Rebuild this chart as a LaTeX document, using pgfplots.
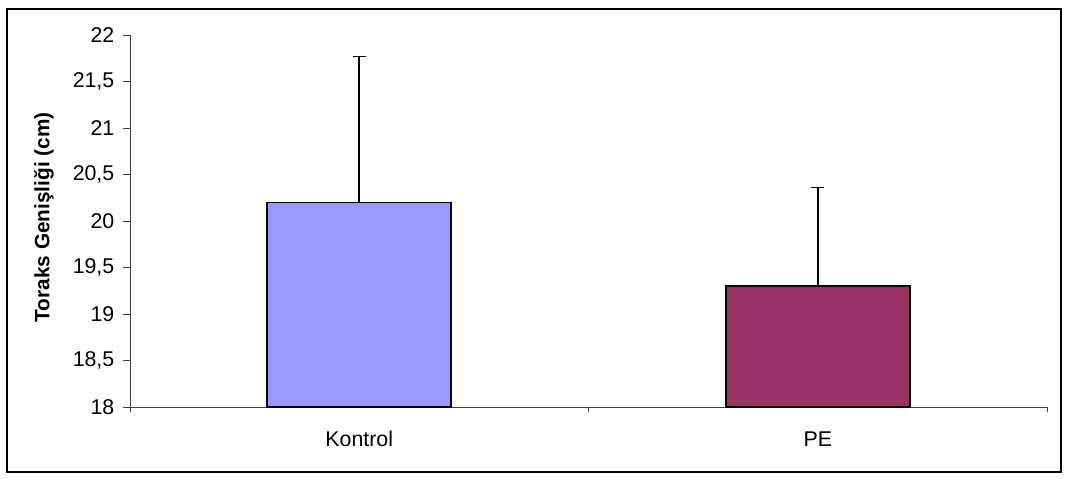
\documentclass[border=0pt]{standalone}
\usepackage{fontspec}
\setmainfont{Liberation Sans}
\usepackage{pgfplots}
\pgfplotsset{compat=1.18}

\definecolor{kontrol}{HTML}{9999FF}
\definecolor{pe}{HTML}{993366}

\begin{document}
\begin{tikzpicture}[font=\fontsize{16}{19}\selectfont]
\useasboundingbox (0,0) rectangle (799.5pt,358.5pt);
\draw[line width=0.8pt] (5.25pt,4.5pt) rectangle (795.75pt,351.75pt);
\begin{axis}[
    at={(97.5pt,53.25pt)}, anchor=south west,
    scale only axis,
    width=687.75pt, height=279pt,
    axis x line*=bottom,
    axis y line*=left,
    axis line style={black!75, line width=0.7pt},
    xmin=0, xmax=2,
    ymin=18, ymax=22,
    ytick={18,18.5,...,22},
    /pgf/number format/.cd, fixed, use comma, precision=1, assume math mode=true,
    /pgfplots/.cd,
    xtick={0.5,1.5},
    xticklabels={Kontrol, PE},
    x tick style={draw=none},
    extra x ticks={0,1,2},
    extra x tick labels={},
    extra x tick style={x tick style={draw=black!75, line width=0.7pt}, major tick length=3.75pt},
    y tick style={black!75, line width=0.7pt},
    tick align=outside,
    major tick length=5.25pt,
    every tick label/.append style={font=\fontsize{16}{19}\selectfont},
    xticklabel style={anchor=center, yshift=-18.5pt},
    yticklabel style={anchor=east, xshift=-3pt},
    ylabel={Toraks Genişliği (cm)},
    every axis y label/.style={at={(axis description cs:-0.094,0.51)}, rotate=90, anchor=center,
        font=\fontsize{15.6}{19}\selectfont\bfseries},
    bar width=138pt,
    ybar, bar shift=0pt,
    clip=false,
]
\addplot[fill=kontrol, draw=black, line width=1.3pt,
    error bars/.cd, y dir=plus, y explicit,
    error bar style={black, line width=1.2pt},
    error mark options={rotate=90, mark size=5pt, line width=1.2pt}]
  coordinates {(0.5,20.2) +- (0,1.57)};
\addplot[fill=pe, draw=black, line width=1.3pt,
    error bars/.cd, y dir=plus, y explicit,
    error bar style={black, line width=1.2pt},
    error mark options={rotate=90, mark size=5pt, line width=1.2pt}]
  coordinates {(1.5,19.3) +- (0,1.06)};
\end{axis}
\end{tikzpicture}
\end{document}
